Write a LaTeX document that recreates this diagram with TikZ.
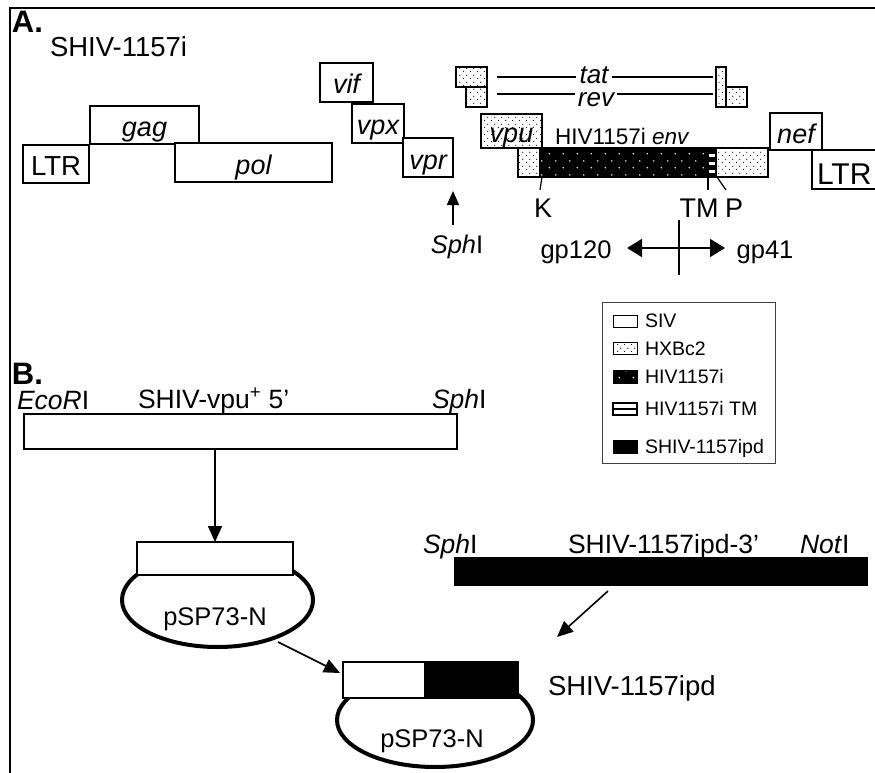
\documentclass[tikz,border=0pt]{standalone}
\usepackage{fontspec}
\setmainfont{Liberation Sans}
\usetikzlibrary{arrows.meta,patterns.meta,shapes.geometric}
\newcommand\myfs[1]{\fontsize{#1}{#1}\selectfont}
\tikzdeclarepattern{
  name=hxdots, type=uncolored,
  bounding box={(0pt,0pt) and (7pt,7pt)},
  tile size={(7pt,7pt)},
  code={\fill (1.75pt,1.75pt) circle (0.65pt); \fill (5.25pt,5.25pt) circle (0.65pt);}
}
\tikzdeclarepattern{
  name=hvdots, type=uncolored,
  bounding box={(0pt,0pt) and (14pt,14pt)},
  tile size={(14pt,14pt)},
  code={\fill (3.5pt,3.5pt) circle (0.9pt); \fill (10.5pt,10.5pt) circle (0.9pt);}
}
\begin{document}
\begin{tikzpicture}[x=1pt,y=-1pt,
  every node/.style={inner sep=0pt,outer sep=0pt},
  gb/.style={draw,line width=1.4pt,anchor=north west,fill=white},
  gt/.style={gb,font=\myfs{27}\itshape,text height=23pt,text depth=0pt},
  hx/.style={pattern=hxdots,pattern color=black},
  hv/.style={preaction={fill=black},pattern=hvdots,pattern color=white},
  lbl/.style={anchor=base west,font=\myfs{26.5}},
  arr/.style={-{Triangle[length=16pt,width=14pt]},line width=1.6pt},
  thinline/.style={line width=1.2pt},
  ring/.style={ellipse,draw,line width=4pt}]
\useasboundingbox (0,0) rectangle (875,773);
\draw[line width=2pt] (880,8) -- (10,8) -- (10,780);

% ---------- A ----------
\node[anchor=base west,font=\myfs{31}\bfseries] (labA) at (12,33) {A.};
\node[anchor=base west,font=\myfs{27.5}] (title) at (50,57) {SHIV-1157i};

\node[gt,font=\myfs{27.5},minimum width=66pt,minimum height=38pt] (ltrL) at (23,145) {LTR};
\node[gt,minimum width=109pt,minimum height=38pt] (gag) at (90,106) {gag};
\node[gt,minimum width=157pt,minimum height=39pt] (pol) at (175,143) {pol};
\node[gt,minimum width=53pt,minimum height=39pt] (vif) at (320,63) {vif};
\node[gt,minimum width=52pt,minimum height=39pt] (vpx) at (352,104) {vpx};
\node[gt,minimum width=50pt,minimum height=39pt] (vpr) at (403,138) {vpr};

% tat / rev
\node[gb,hx,minimum width=31pt,minimum height=20pt] (tatA) at (456,67) {};
\node[gb,hx,minimum width=21pt,minimum height=20pt] (revA) at (466,87) {};
\node[gb,hx,minimum width=10pt,minimum height=40pt] (tatB) at (716,67) {};
\node[gb,hx,minimum width=21pt,minimum height=20pt] (revB) at (726,87) {};
\node[anchor=base,font=\myfs{26}\itshape,inner xsep=4pt] (tat) at (594,84) {tat};
\node[anchor=base,font=\myfs{26}\itshape,inner xsep=3pt] (rev) at (596,107) {rev};
\coordinate (tatL) at (497,77); \coordinate (tatR) at (713,77);
\coordinate (revL) at (497,94); \coordinate (revR) at (713,94);
\draw[thinline] (tatL) -- (tatL -| tat.west);
\draw[thinline] (tat.east |- tatR) -- (tatR);
\draw[thinline] (revL) -- (revL -| rev.west);
\draw[thinline] (rev.east |- revR) -- (revR);

% vpu / env
\node[gt,hx,minimum width=61pt,minimum height=34pt] (vpu) at (481,114) {vpu};
\node[anchor=base west,font=\myfs{22.5}] (envlab) at (555,145) {HIV1157i \textit{env}};
\node[gb,hx,minimum width=22pt,minimum height=29pt] (e1) at (518,148) {};
\node[gb,hv,minimum width=167pt,minimum height=29pt] (e2) at (540,148) {};
\node[gb,fill=black,minimum width=9pt,minimum height=29pt] (e3) at (707,148) {};
\foreach \yy in {155,163,171} \draw[white,line width=3pt] (708.5,\yy) -- (715.5,\yy);
\node[gb,hx,minimum width=52pt,minimum height=29pt] (e4) at (716,148) {};
\node[gt,minimum width=52pt,minimum height=37pt] (nef) at (770,113) {nef};
\node[gb,minimum width=80pt,minimum height=39pt] (ltrR) at (812,150) {};
\node[anchor=base west,font=\myfs{30}] (ltrRt) at (817,184) {LTR};

% K TM P
\draw[thinline] ([xshift=2pt]e2.south west) -- ++(-2,13) coordinate (kt);
\draw[thinline] ([xshift=1pt]e3.south west) -- ++(0,13) coordinate (tmt);
\draw[thinline] ([xshift=1pt]e4.south west) -- ++(9,13) coordinate (pt);
\node[anchor=base,font=\myfs{27}] (K) at (543,217) {K};
\node[anchor=base,font=\myfs{27}] (TM) at (699,217) {TM};
\node[anchor=base,font=\myfs{27}] (P) at (734,217) {P};

% SphI arrow
\node[anchor=base,font=\myfs{25.5}] (sphA) at (457,253) {\textit{Sph}I};
\coordinate (sphBot) at (453,225);
\coordinate (sphTip) at (453,191);
\draw[-{Triangle[length=14pt,width=12pt]},line width=1.6pt] (sphBot) -- (sphTip);

% gp120 / gp41
\node[anchor=base,font=\myfs{25.5}] (gp120) at (576,258) {gp120};
\node[anchor=base,font=\myfs{25.5}] (gp41) at (765,258) {gp41};
\coordinate (gpL) at (627,248); \coordinate (gpR) at (725,248);
\draw[{Triangle[length=15pt,width=18pt]}-{Triangle[length=15pt,width=18pt]},line width=1.6pt] (gpL) -- (gpR);
\coordinate (cutT) at (679,220); \coordinate (cutB) at (679,275);
\draw[line width=1.6pt] (cutT) -- (cutB);

% legend
\node[draw=black!75,line width=1pt,anchor=north west,minimum width=173pt,minimum height=161pt] (legend) at (602,302) {};
\node[gb,line width=1pt,minimum width=24pt,minimum height=12pt] (swSIV) at (613,315) {};
\node[gb,hx,line width=1pt,minimum width=24pt,minimum height=12pt] (swHX) at (613,342) {};
\node[gb,hv,line width=1pt,minimum width=24pt,minimum height=13pt] (swHV) at (613,370) {};
\node[gb,line width=2pt,minimum width=24pt,minimum height=12pt] (swTM) at (613,403) {};
\draw[line width=2pt] (swTM.west) -- (swTM.east);
\node[gb,fill=black,line width=1pt,minimum width=24pt,minimum height=13pt] (swSH) at (613,440) {};
\node[anchor=base west,font=\myfs{19.5}] (tSIV) at (645,327) {SIV};
\node[anchor=base west,font=\myfs{19.5}] (tHX) at (645,355) {HXBc2};
\node[anchor=base west,font=\myfs{19.5}] (tHV) at (645,383) {HIV1157i};
\node[anchor=base west,font=\myfs{19.5}] (tTM) at (645,415) {HIV1157i TM};
\node[anchor=base west,font=\myfs{19.5}] (tSH) at (645,453) {SHIV-1157ipd};

% ---------- B ----------
\node[anchor=base west,font=\myfs{31}\bfseries] (labB) at (12,384) {B.};
\node[lbl] (eco) at (17,409) {\textit{EcoR}I};
\node[lbl] (vpu5) at (138,408) {SHIV-vpu\textsuperscript{+} 5’};
\node[lbl] (sphB) at (432,408) {\textit{Sph}I};
\node[gb,minimum width=433pt,minimum height=35pt] (frag5) at (24,414) {};

% plasmid 1
\node[ring,minimum width=191pt,minimum height=94pt] (ring1) at (217.5,600) {};
\node[gb,minimum width=156pt,minimum height=33pt] (ins1) at (137,542) {};
\node[anchor=base,font=\myfs{25.5}] (p1lab) at (215,625) {pSP73-N};
\draw[arr] (ins1.north |- frag5.south) -- (ins1.north);

% 3' fragment
\node[lbl] (sphC) at (423,553) {\textit{Sph}I};
\node[lbl] (f3lab) at (568,553) {SHIV-1157ipd-3’};
\node[lbl] (notI) at (800,553) {\textit{Not}I};
\node[gb,fill=black,minimum width=412pt,minimum height=27pt] (frag3) at (455,558) {};

% plasmid 2
\node[ring,minimum width=196pt,minimum height=94pt] (ring2) at (435,720) {};
\node[gb,minimum width=82pt,minimum height=36pt] (ins2a) at (343,662) {};
\node[gb,fill=black,minimum width=93pt,minimum height=36pt] (ins2b) at (425,662) {};
\node[anchor=base,font=\myfs{25.5}] (p2lab) at (432,747) {pSP73-N};
\node[anchor=base west,font=\myfs{27.5}] (final) at (548,695) {SHIV-1157ipd};

\coordinate (d1s) at (608,591); \coordinate (d1e) at (557,637);
\draw[arr] (d1s) -- (d1e);
\coordinate (d2s) at (278,642); \coordinate (d2e) at (340,673);
\draw[arr] (d2s) -- (d2e);
\end{tikzpicture}
\end{document}
